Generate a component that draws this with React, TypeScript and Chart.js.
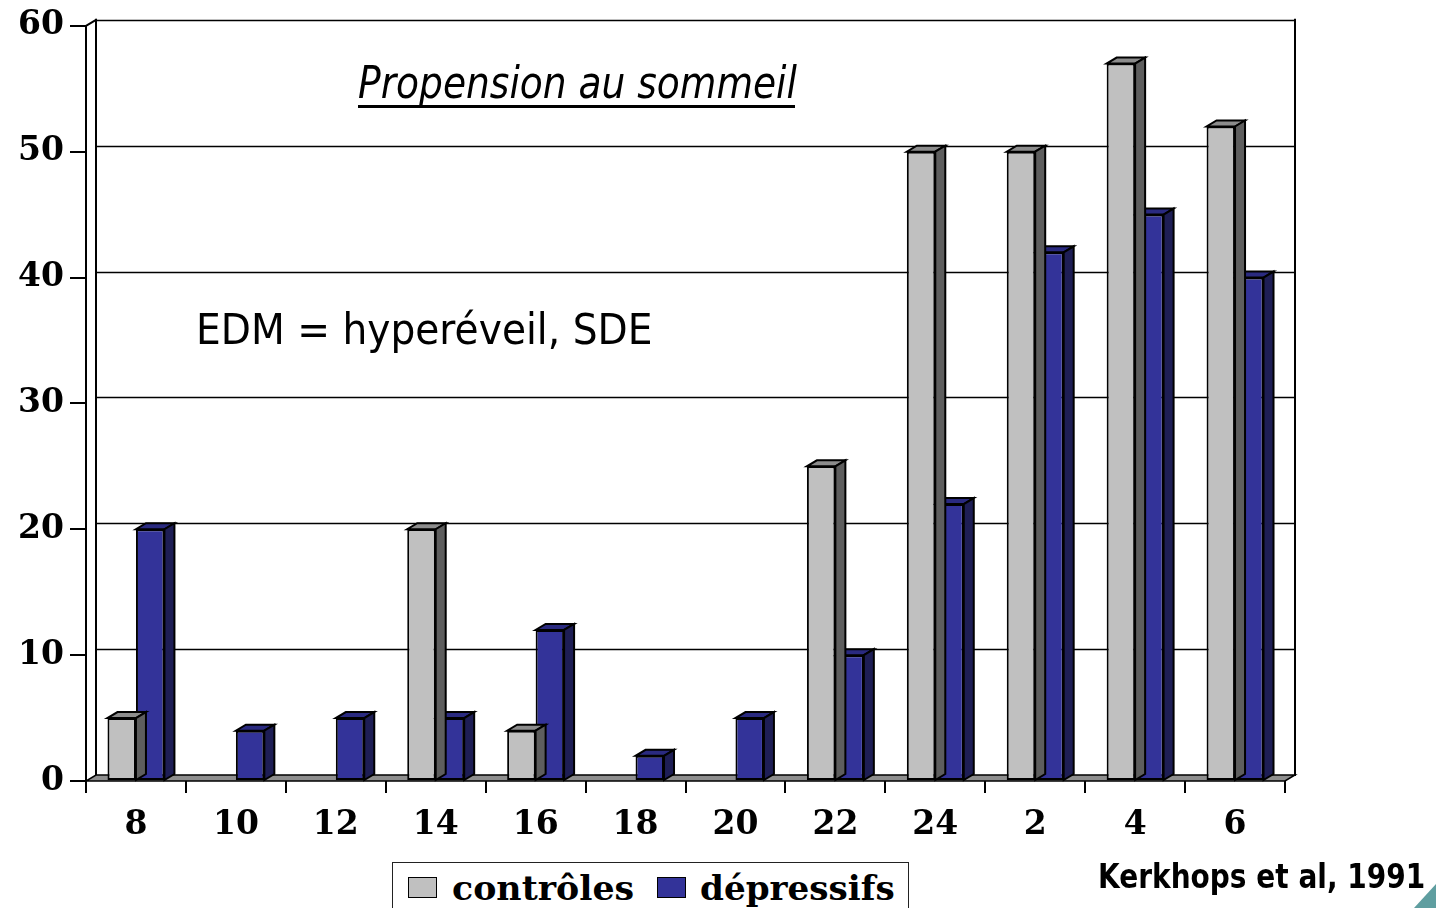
import React, { useEffect, useLayoutEffect, useRef, useState } from "react";
import { Chart, registerables } from "chart.js";

Chart.register(...registerables);

const hours = ["8", "10", "12", "14", "16", "18", "20", "22", "24", "2", "4", "6"];
const controles = [5, 0, 0, 20, 4, 0, 0, 25, 50, 50, 57, 52];
const depressifs = [20, 4, 5, 5, 12, 2, 5, 10, 22, 42, 45, 40];
const yTicks = [0, 10, 20, 30, 40, 50, 60];

const DX = 10;
const DY = 6;

const faceColors: Record<number, { front: string; top: string; side: string }> = {
  0: { front: "#C0C0C0", top: "#8C8C8C", side: "#5E5E5E" },
  1: { front: "#333399", top: "#2A2A80", side: "#1E1E55" },
};

function poly(ctx: CanvasRenderingContext2D, pts: number[][], fill: string | null, stroke: string, lw: number) {
  ctx.beginPath();
  ctx.moveTo(pts[0][0], pts[0][1]);
  for (let i = 1; i < pts.length; i++) ctx.lineTo(pts[i][0], pts[i][1]);
  ctx.closePath();
  if (fill) {
    ctx.fillStyle = fill;
    ctx.fill();
  }
  ctx.strokeStyle = stroke;
  ctx.lineWidth = lw;
  ctx.stroke();
}

const threeD = {
  id: "threeD",
  beforeDatasetsDraw(chart: any) {
    const { ctx, chartArea, scales } = chart;
    const y = scales.y;
    const L = chartArea.left, R = chartArea.right, T = chartArea.top, B = chartArea.bottom;
    ctx.save();
    ctx.lineCap = "square";
    ctx.strokeStyle = "#000";
    ctx.lineWidth = 1.5;
    yTicks.forEach((v) => {
      if (v === 0) return;
      const py = Math.round(y.getPixelForValue(v)) - DY + 0.5;
      ctx.beginPath();
      ctx.moveTo(L + DX, py);
      ctx.lineTo(R + DX, py);
      ctx.stroke();
    });
    ctx.lineWidth = 2;
    ctx.beginPath();
    ctx.moveTo(L + DX, T - DY);
    ctx.lineTo(L + DX, B - DY);
    ctx.moveTo(R + DX, T - DY);
    ctx.lineTo(R + DX, B - DY);
    ctx.moveTo(L, T);
    ctx.lineTo(L + DX, T - DY);
    ctx.stroke();
    poly(ctx, [[L, B], [R, B], [R + DX, B - DY], [L + DX, B - DY]], "#8E8E8E", "#000", 1.5);
    ctx.restore();
  },
  afterDatasetDraw(chart: any, args: any) {
    const { ctx } = chart;
    const idx = args.index;
    const col = faceColors[idx];
    const data = chart.data.datasets[idx].data;
    ctx.save();
    ctx.lineJoin = "miter";
    args.meta.data.forEach((el: any, i: number) => {
      if (!data[i]) return;
      const p = el.getProps(["x", "y", "base", "width"], true);
      const l = p.x - p.width / 2;
      const r = p.x + p.width / 2;
      poly(ctx, [[l, p.y], [r, p.y], [r + DX, p.y - DY], [l + DX, p.y - DY]], col.top, "#000", 2);
      poly(ctx, [[r, p.y], [r + DX, p.y - DY], [r + DX, p.base - DY], [r, p.base]], col.side, "#000", 2);
    });
    ctx.restore();
  },
  afterDraw(chart: any) {
    const { ctx } = chart;
    ctx.save();
    ctx.fillStyle = "#5F9EA0";
    ctx.beginPath();
    ctx.moveTo(1414, 908);
    ctx.lineTo(1436, 884);
    ctx.lineTo(1436, 908);
    ctx.closePath();
    ctx.fill();
    ctx.restore();
  },
};

function FitText(props: { text: string; left: number; top: number; width: number; style: React.CSSProperties }) {
  const ref = useRef<HTMLSpanElement>(null);
  const [sx, setSx] = useState(1);
  useLayoutEffect(() => {
    if (ref.current) {
      const w = ref.current.offsetWidth;
      if (w > 0) setSx(props.width / w);
    }
  }, [props.text, props.width]);
  return (
    <span
      ref={ref}
      style={{
        position: "absolute",
        left: props.left,
        top: props.top,
        whiteSpace: "nowrap",
        lineHeight: 1,
        transform: `scaleX(${sx})`,
        transformOrigin: "left top",
        color: "#000",
        ...props.style,
      }}
    >
      {props.text}
    </span>
  );
}

export default function App() {
  const canvasRef = useRef<HTMLCanvasElement>(null);

  useEffect(() => {
    if (!canvasRef.current) return;
    const tickFont = { family: "'DejaVu Serif', serif", size: 33, weight: "bold" as const };
    const chart = new Chart(canvasRef.current, {
      type: "bar",
      data: {
        labels: hours,
        datasets: [
          {
            label: "contrôles",
            data: controles,
            backgroundColor: faceColors[0].front,
            borderColor: "#000",
            borderWidth: 2,
            borderSkipped: false,
            categoryPercentage: 0.57,
            barPercentage: 1,
          },
          {
            label: "dépressifs",
            data: depressifs,
            backgroundColor: faceColors[1].front,
            borderColor: "#000",
            borderWidth: 2,
            borderSkipped: false,
            categoryPercentage: 0.57,
            barPercentage: 1,
          },
        ],
      },
      options: {
        responsive: false,
        maintainAspectRatio: false,
        animation: false,
        devicePixelRatio: 1,
        layout: { padding: { left: 0, top: 22, right: 151, bottom: 0 } },
        plugins: {
          legend: { display: false },
          tooltip: { enabled: false },
          title: { display: false },
        },
        scales: {
          x: {
            grid: {
              display: true,
              drawOnChartArea: false,
              drawTicks: true,
              tickLength: 12,
              color: "#000",
              lineWidth: 2,
              offset: true,
            },
            border: { display: false },
            ticks: { font: tickFont, color: "#000", padding: 13, maxRotation: 0 },
            afterFit: (s: any) => {
              s.height = 127;
            },
          },
          y: {
            min: 0,
            max: 60,
            ticks: { stepSize: 10, font: tickFont, color: "#000", padding: 6 },
            grid: {
              display: true,
              drawOnChartArea: false,
              drawTicks: true,
              tickLength: 16,
              color: "#000",
              lineWidth: 2,
            },
            border: { display: true, color: "#000", width: 2 },
            afterFit: (s: any) => {
              s.width = 86;
            },
          },
        },
      },
      plugins: [threeD],
    });
    return () => chart.destroy();
  }, []);

  return (
    <div
      style={{
        position: "fixed",
        left: 0,
        top: 0,
        width: 1436,
        height: 908,
        overflow: "hidden",
        background: "#fff",
      }}
    >
      <canvas ref={canvasRef} width={1436} height={908} style={{ position: "absolute", left: 0, top: 0 }} />
      <FitText
        text="Propension au sommeil"
        left={358}
        top={60}
        width={439}
        style={{ fontFamily: "'DejaVu Sans', sans-serif", fontStyle: "italic", fontSize: 45 }}
      />
      <div style={{ position: "absolute", left: 358, top: 105, width: 437, height: 3, background: "#000" }} />
      <FitText
        text="EDM = hyperéveil, SDE"
        left={196}
        top={309}
        width={456}
        style={{ fontFamily: "'DejaVu Sans', sans-serif", fontSize: 42 }}
      />
      <FitText
        text="Kerkhops et al, 1991"
        left={1098}
        top={859}
        width={327}
        style={{ fontFamily: "'DejaVu Sans', sans-serif", fontWeight: "bold", fontSize: 34 }}
      />
      <div
        style={{
          position: "absolute",
          left: 392,
          top: 862,
          width: 517,
          height: 60,
          border: "1.5px solid #222",
          boxSizing: "border-box",
          background: "#fff",
        }}
      />
      <div
        style={{
          position: "absolute",
          left: 408,
          top: 877,
          width: 29,
          height: 21,
          background: "#C0C0C0",
          border: "1.5px solid #000",
          boxSizing: "border-box",
        }}
      />
      <FitText
        text="contrôles"
        left={452}
        top={871}
        width={182}
        style={{ fontFamily: "'DejaVu Serif', serif", fontWeight: "bold", fontSize: 34 }}
      />
      <div
        style={{
          position: "absolute",
          left: 657,
          top: 877,
          width: 29,
          height: 21,
          background: "#333399",
          border: "1.5px solid #000",
          boxSizing: "border-box",
        }}
      />
      <FitText
        text="dépressifs"
        left={700}
        top={871}
        width={195}
        style={{ fontFamily: "'DejaVu Serif', serif", fontWeight: "bold", fontSize: 34 }}
      />
    </div>
  );
}
